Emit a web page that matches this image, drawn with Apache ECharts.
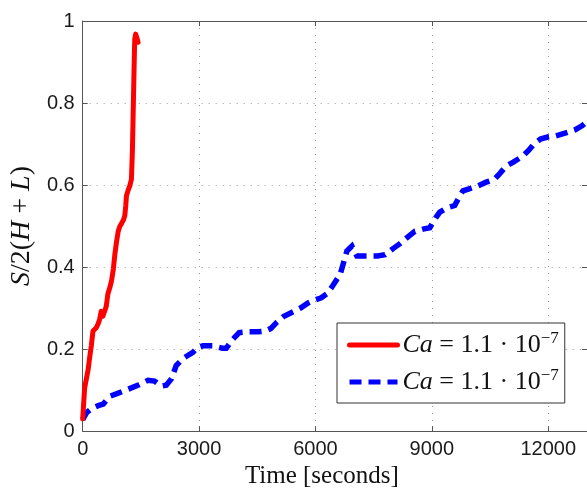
<!DOCTYPE html>
<html>
<head>
<meta charset="utf-8">
<script src="https://cdn.jsdelivr.net/npm/echarts@6/dist/echarts.min.js"></script>
<style>
  html, body { margin: 0; padding: 0; background: #fff; }
  #chart { width: 587px; height: 494px; }
</style>
</head>
<body>
<div id="chart"></div>
<script>
// Time samples [s] and S/2(H+L) for the fast run (solid red)
const fastTime = [0, 20, 50, 100, 140, 180, 222, 265, 300, 350, 400, 436, 478, 520, 564, 607, 650, 700, 744, 790, 829, 870, 915, 960, 1000, 1050, 1086, 1110, 1128, 1170, 1213, 1256, 1282, 1299, 1316, 1333, 1342, 1365, 1385, 1410, 1427];
const fastRatio = [0.03, 0.06, 0.105, 0.13, 0.15, 0.18, 0.208, 0.244, 0.245, 0.252, 0.262, 0.272, 0.292, 0.28, 0.284, 0.304, 0.335, 0.35, 0.367, 0.395, 0.431, 0.46, 0.487, 0.5, 0.506, 0.515, 0.526, 0.55, 0.574, 0.587, 0.598, 0.614, 0.685, 0.765, 0.844, 0.924, 0.956, 0.968, 0.968, 0.955, 0.948];

// Time samples [s] and S/2(H+L) for the slow run (dashed blue)
const slowTime = [0, 100, 230, 400, 530, 700, 900, 1170, 1450, 1684, 1850, 2025, 2154, 2290, 2410, 2600, 2840, 2966, 3100, 3350, 3600, 3700, 3850, 4033, 4250, 4505, 4700, 4846, 5000, 5187, 5400, 5615, 5800, 5956, 6150, 6298, 6450, 6640, 6810, 6940, 7068, 7325, 7600, 7794, 8000, 8179, 8400, 8563, 8800, 8948, 9100, 9205, 9400, 9590, 9700, 9803, 10000, 10187, 10400, 10614, 10750, 10914, 11100, 11340, 11500, 11640, 11800, 11982, 12200, 12453, 12700, 12880, 13000];
const slowRatio = [0.028, 0.045, 0.055, 0.062, 0.066, 0.085, 0.092, 0.102, 0.113, 0.124, 0.122, 0.11, 0.112, 0.128, 0.16, 0.178, 0.192, 0.204, 0.208, 0.208, 0.202, 0.202, 0.222, 0.24, 0.242, 0.242, 0.244, 0.25, 0.265, 0.28, 0.29, 0.3, 0.312, 0.319, 0.325, 0.335, 0.355, 0.383, 0.439, 0.451, 0.427, 0.427, 0.427, 0.43, 0.445, 0.457, 0.475, 0.487, 0.493, 0.496, 0.52, 0.534, 0.545, 0.55, 0.57, 0.586, 0.592, 0.598, 0.607, 0.614, 0.628, 0.646, 0.656, 0.67, 0.685, 0.701, 0.712, 0.717, 0.72, 0.727, 0.735, 0.745, 0.755];

// Axis ranges and tick spacing
const xRange = [0, 13000];
const xStep = 3000;
const yRange = [0, 1];
const yStep = 0.2;

// Legend entries (one per series, same order)
const seriesNames = ['run A', 'run B'];
const legendLabels = ['{i|Ca} = 1.1 · 10{s|−7}', '{i|Ca} = 1.1 · 10{s|−7}'];

const zip = (xs, ys) => xs.map((x, i) => [x, ys[i]]);

const serif = 'Liberation Serif';
const sans = 'Liberation Sans';
const frameColor = '#555';

const chart = echarts.init(document.getElementById('chart'), null, { renderer: 'canvas' });

const frameAxis = {
  axisLine: { show: true, onZero: false, lineStyle: { color: frameColor, width: 1 } },
  axisTick: { show: true, inside: true, length: 5, lineStyle: { color: frameColor } },
  axisLabel: { show: false },
  splitLine: { show: false }
};

const gridDots = { show: true, lineStyle: { color: '#999', width: 1, type: [1, 6] } };

chart.setOption({
  animation: false,
  backgroundColor: '#fff',
  grid: { left: 81, right: 0, top: 21, bottom: 53, containLabel: false },
  xAxis: [
    {
      type: 'value', min: xRange[0], max: xRange[1], interval: xStep,
      name: 'Time [seconds]', nameLocation: 'middle', nameGap: 26,
      nameTextStyle: { fontFamily: serif, fontSize: 25, color: '#111', padding: [0, 26, 0, 0] },
      axisLine: { show: true, onZero: false, lineStyle: { color: frameColor, width: 1 } },
      axisTick: { show: true, inside: true, length: 5, lineStyle: { color: frameColor } },
      axisLabel: {
        show: true, fontFamily: sans, fontSize: 20, color: '#1a1a1a', margin: 8, showMaxLabel: false,
        formatter: v => String(v)
      },
      splitLine: gridDots
    },
    Object.assign({ type: 'value', position: 'top', min: xRange[0], max: xRange[1], interval: xStep }, frameAxis)
  ],
  yAxis: [
    {
      type: 'value', min: yRange[0], max: yRange[1], interval: yStep,
      name: '{i|S}/2({i|H} + {i|L})', nameLocation: 'middle', nameGap: 42,
      nameTextStyle: {
        fontFamily: serif, fontSize: 28, color: '#111',
        rich: {
          i: { fontFamily: serif, fontSize: 28, fontStyle: 'italic', color: '#111' }
        }
      },
      axisLine: { show: true, onZero: false, lineStyle: { color: frameColor, width: 1 } },
      axisTick: { show: true, inside: true, length: 5, lineStyle: { color: frameColor } },
      axisLabel: {
        show: true, fontFamily: sans, fontSize: 20, color: '#1a1a1a', margin: 8,
        formatter: v => String(Math.round(v * 10) / 10)
      },
      splitLine: gridDots
    },
    Object.assign({ type: 'value', position: 'right', min: yRange[0], max: yRange[1], interval: yStep }, frameAxis)
  ],
  legend: {
    orient: 'vertical',
    left: 337, top: 323,
    padding: [7, 6, 6, 10],
    itemGap: 7,
    itemWidth: 48,
    itemHeight: 2,
    backgroundColor: '#fff',
    borderColor: '#333',
    borderWidth: 1,
    selectedMode: false,
    data: seriesNames,
    formatter: name => legendLabels[seriesNames.indexOf(name)],
    lineStyle: { width: 5 },
    textStyle: {
      fontFamily: serif, fontSize: 26, color: '#111', lineHeight: 30,
      rich: {
        i: { fontFamily: serif, fontSize: 26, fontStyle: 'italic', color: '#111', lineHeight: 30 },
        s: { fontFamily: serif, fontSize: 17, color: '#111', lineHeight: 16, verticalAlign: 'top' }
      }
    }
  },
  series: [
    {
      name: seriesNames[0],
      type: 'line',
      xAxisIndex: 0, yAxisIndex: 0,
      data: zip(fastTime, fastRatio),
      showSymbol: false, symbol: 'circle',
      lineStyle: { color: '#ff0000', width: 5, join: 'round', cap: 'round' },
      itemStyle: { color: '#ff0000' },
      z: 3
    },
    {
      name: seriesNames[1],
      type: 'line',
      xAxisIndex: 0, yAxisIndex: 0,
      data: zip(slowTime, slowRatio),
      showSymbol: false, symbol: 'circle',
      lineStyle: { color: '#0000ff', width: 5.5, type: [12, 7], cap: 'butt', join: 'miter' },
      itemStyle: { color: '#0000ff' },
      z: 2
    }
  ]
});
</script>
</body>
</html>
